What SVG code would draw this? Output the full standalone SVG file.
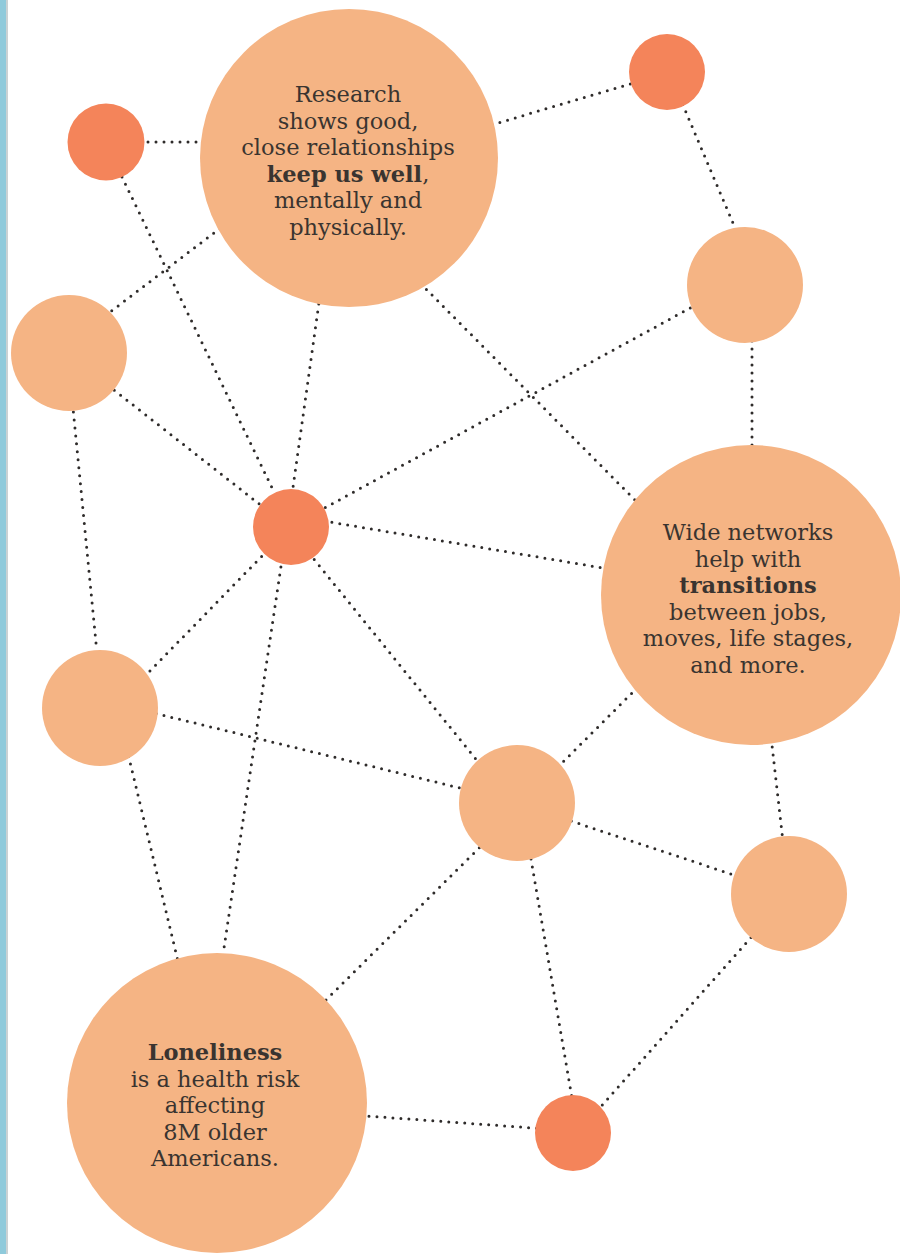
<svg xmlns="http://www.w3.org/2000/svg" width="900" height="1254" viewBox="0 0 900 1254">
<style>
.c line{stroke:#2e2b2a;stroke-width:3;stroke-linecap:round;stroke-dasharray:0 8;fill:none}
.lt{fill:#f5b484}
.rd{fill:#f4845a}
text{font-family:"DejaVu Serif","Liberation Serif",serif;font-size:22.5px;fill:#3a3430;text-anchor:middle}
.b{font-weight:bold}
</style>
<rect x="0" y="0" width="900" height="1254" fill="#ffffff"/>
<rect x="0" y="0" width="6" height="1254" fill="#8fcadb"/>
<line x1="7" y1="0" x2="7" y2="1254" stroke="#b9c3c6" stroke-width="1.5"/>
<g id="connectors" class="c">
<line x1="140" y1="142" x2="205" y2="142"/>
<line x1="122" y1="177" x2="275" y2="494"/>
<line x1="220" y1="228.4" x2="108" y2="313.6"/>
<line x1="318.8" y1="304" x2="292.2" y2="493"/>
<line x1="420.8" y1="283.7" x2="639.2" y2="504.3"/>
<line x1="492.2" y1="124.7" x2="635.8" y2="82.3"/>
<line x1="682.7" y1="104.5" x2="735.3" y2="228.5"/>
<line x1="697.3" y1="304.1" x2="324.7" y2="507.9"/>
<line x1="752" y1="341" x2="752" y2="449"/>
<line x1="114.3" y1="390.3" x2="262.7" y2="506.7"/>
<line x1="73.4" y1="412" x2="96.6" y2="649"/>
<line x1="324" y1="521" x2="609" y2="569"/>
<line x1="267.2" y1="550.7" x2="143.8" y2="677.3"/>
<line x1="309.2" y1="553.3" x2="478.8" y2="762.7"/>
<line x1="280.9" y1="567" x2="223.1" y2="954"/>
<line x1="156.2" y1="713.6" x2="465.8" y2="789.4"/>
<line x1="128.6" y1="756.2" x2="178.4" y2="962.8"/>
<line x1="637.2" y1="687.8" x2="558.8" y2="766.2"/>
<line x1="771.3" y1="739" x2="782.7" y2="839"/>
<line x1="571.3" y1="821.1" x2="733.7" y2="874.9"/>
<line x1="479.3" y1="847.8" x2="323.7" y2="1002.2"/>
<line x1="531" y1="859" x2="572" y2="1098"/>
<line x1="751" y1="937.5" x2="601" y2="1106.5"/>
<line x1="361" y1="1115.6" x2="539" y2="1128.4"/>
</g>
<g id="n-red-topleft"><circle class="rd" cx="106" cy="142" r="38.5"/></g>
<g id="n-research"><circle class="lt" cx="349" cy="158" r="149"/>
<text x="348" y="102">Research</text>
<text x="348" y="128.5">shows good,</text>
<text x="348" y="155">close relationships</text>
<text x="348" y="181.5"><tspan class="b">keep us well</tspan>,</text>
<text x="348" y="208">mentally and</text>
<text x="348" y="234.5">physically.</text>
</g>
<g id="n-red-topright"><circle class="rd" cx="667" cy="72" r="38"/></g>
<g id="n-right-upper"><circle class="lt" cx="745" cy="285" r="58"/></g>
<g id="n-left-upper"><circle class="lt" cx="69" cy="353" r="58"/></g>
<g id="n-red-center"><circle class="rd" cx="291" cy="527" r="38"/></g>
<g id="n-transitions"><circle class="lt" cx="751" cy="595" r="150"/>
<text x="748" y="540">Wide networks</text>
<text x="748" y="566.5">help with</text>
<text x="748" y="593"><tspan class="b">transitions</tspan></text>
<text x="748" y="619.5">between jobs,</text>
<text x="748" y="646">moves, life stages,</text>
<text x="748" y="672.5">and more.</text>
</g>
<g id="n-left-middle"><circle class="lt" cx="100" cy="708" r="58"/></g>
<g id="n-center"><circle class="lt" cx="517" cy="803" r="58"/></g>
<g id="n-right-lower"><circle class="lt" cx="789" cy="894" r="58"/></g>
<g id="n-loneliness"><circle class="lt" cx="217" cy="1103" r="150"/>
<text x="215" y="1060"><tspan class="b">Loneliness</tspan></text>
<text x="215" y="1086.5">is a health risk</text>
<text x="215" y="1113">affecting</text>
<text x="215" y="1139.5">8M older</text>
<text x="215" y="1166">Americans.</text>
</g>
<g id="n-red-bottom"><circle class="rd" cx="573" cy="1133" r="38"/></g>
</svg>
